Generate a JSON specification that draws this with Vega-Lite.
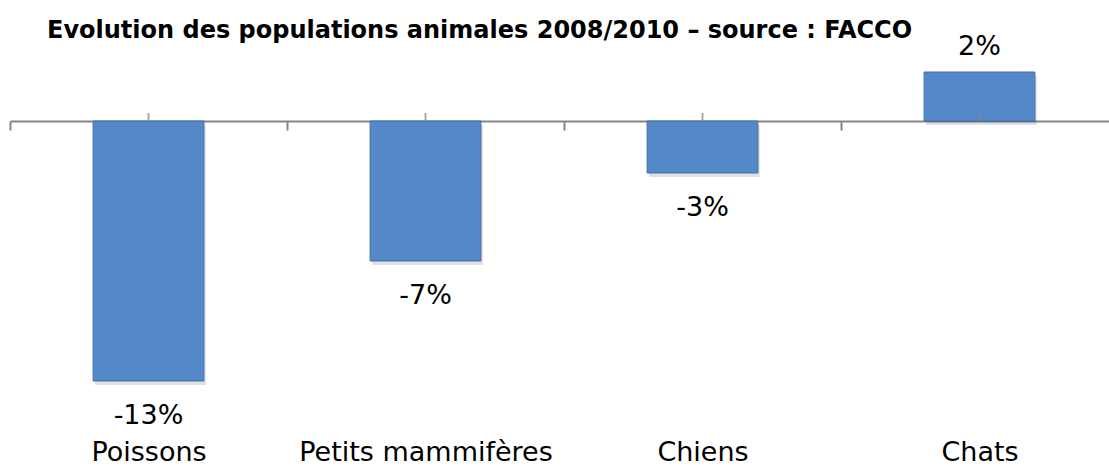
{
  "$schema": "https://vega.github.io/schema/vega-lite/v6.json",
  "autosize": "none",
  "width": 1108,
  "height": 360,
  "padding": {"left": 10, "top": 41, "right": 0, "bottom": 67},
  "background": "white",
  "config": {"view": {"stroke": null}, "font": "DejaVu Sans"},
  "title": {
    "text": "Evolution des populations animales 2008/2010 – source : FACCO",
    "anchor": "start",
    "frame": "group",
    "dx": 37,
    "dy": 29,
    "fontSize": 24,
    "fontWeight": "bold",
    "font": "DejaVu Sans",
    "color": "#000000",
    "baseline": "alphabetic",
    "offset": 0
  },
  "data": {
    "values": [
      {"animal": "Poissons", "value": -0.13, "label": "-13%"},
      {"animal": "Petits mammifères", "value": -0.07, "label": "-7%"},
      {"animal": "Chiens", "value": -0.026, "label": "-3%"},
      {"animal": "Chats", "value": 0.0245, "label": "2%"}
    ]
  },
  "encoding": {
    "x": {
      "field": "animal",
      "type": "nominal",
      "sort": null,
      "scale": {"paddingInner": 0, "paddingOuter": 0},
      "axis": {
        "title": null,
        "orient": "bottom",
        "offset": -280,
        "tickBand": "extent",
        "domainColor": "#868686",
        "domainWidth": 2,
        "tickColor": "#868686",
        "tickWidth": 2,
        "tickSize": 9,
        "labelAngle": 0,
        "labelFontSize": 27,
        "labelColor": "#000000",
        "labelFont": "DejaVu Sans",
        "labelBaseline": "alphabetic",
        "labelLimit": 0,
        "labelPadding": 330
      }
    },
    "y": {
      "field": "value",
      "type": "quantitative",
      "scale": {"domain": [-0.14, 0.04], "nice": false, "zero": false},
      "axis": null
    }
  },
  "layer": [
    {
      "mark": {"type": "bar", "color": "#000000", "opacity": 0.12, "yOffset": 4, "xOffset": 2, "width": {"band": 0.4}}
    },
    {
      "mark": {"type": "bar", "color": "#5588C8", "stroke": "#3F6FA8", "strokeWidth": 1, "width": {"band": 0.4}}
    },
    {
      "mark": {"type": "tick", "color": "#868686", "thickness": 2, "size": 8, "orient": "vertical", "yOffset": -4},
      "encoding": {
        "y": {"datum": 0, "type": "quantitative"}
      }
    },
    {
      "transform": [{"filter": "datum.value < 0"}],
      "mark": {"type": "text", "fontSize": 27, "color": "#000000", "baseline": "alphabetic", "dy": 43},
      "encoding": {
        "text": {"field": "label"}
      }
    },
    {
      "transform": [{"filter": "datum.value >= 0"}],
      "mark": {"type": "text", "fontSize": 27, "color": "#000000", "baseline": "alphabetic", "dy": -17},
      "encoding": {
        "text": {"field": "label"}
      }
    }
  ]
}
